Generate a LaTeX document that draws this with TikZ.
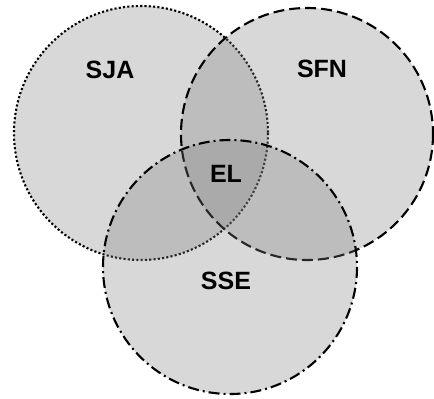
\documentclass[tikz,border=0pt]{standalone}
\usepackage{fontspec}
\setmainfont{Liberation Sans}
\begin{document}
\begin{tikzpicture}[x=1bp,y=-1bp,
  set/.style={fill=gray, fill opacity=0.3, draw=black, line width=2.1bp},
  dotline/.style={dash pattern=on 2.1bp off 2.2bp},
  dashline/.style={dash pattern=on 11bp off 5bp},
  dashdotline/.style={dash pattern=on 11bp off 4bp on 2bp off 4bp},
  lbl/.style={font=\fontsize{25bp}{29bp}\selectfont\bfseries, text=black, inner sep=0pt}]
  \useasboundingbox[fill=white] (0,0) rectangle (434,398);
  % the three sets
  \coordinate (cSJA) at (141,133);
  \coordinate (cSFN) at (307,134);
  \coordinate (cSSE) at (230,267);
  \draw[set, dotline] (cSJA) circle[radius=127];
  \draw[set, dashline] (cSFN) circle[radius=126];
  \draw[set, dashdotline] (cSSE) circle[radius=127];
  % labels
  \node[lbl] (SJA) at (110,70) {SJA};
  \node[lbl] (SFN) at (322,69) {SFN};
  \node[lbl] (EL) at (226,174) {EL};
  \node[lbl] (SSE) at (226,281) {SSE};
\end{tikzpicture}
\end{document}
